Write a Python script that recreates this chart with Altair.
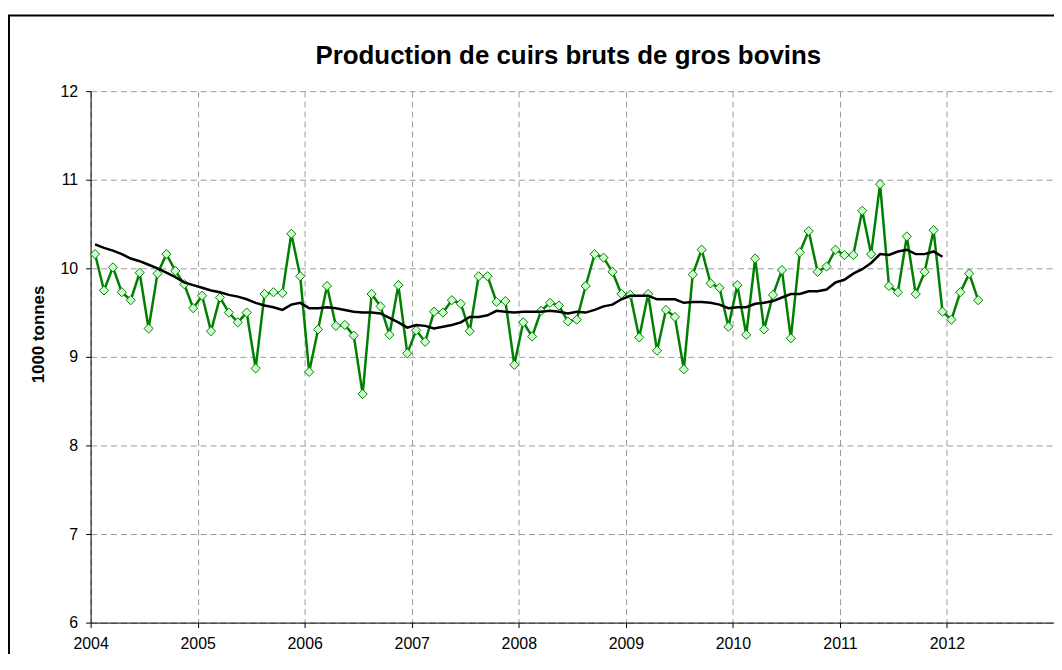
import altair as alt
import pandas as pd

# Monthly production, Jan 2004 .. Apr 2012 (1000 tonnes)
years = list(range(2004, 2013))
production = [
    10.16, 9.75, 10.01, 9.73, 9.64, 9.95, 9.32, 9.94, 10.16, 9.97, 9.82, 9.55,   # 2004
    9.69, 9.29, 9.67, 9.50, 9.39, 9.50, 8.87, 9.71, 9.73, 9.72, 10.39, 9.91,     # 2005
    8.83, 9.31, 9.80, 9.35, 9.36, 9.24, 8.58, 9.71, 9.57, 9.25, 9.81, 9.04,      # 2006
    9.30, 9.17, 9.51, 9.50, 9.64, 9.60, 9.29, 9.91, 9.91, 9.62, 9.63, 8.91,      # 2007
    9.39, 9.23, 9.52, 9.61, 9.58, 9.40, 9.42, 9.80, 10.16, 10.12, 9.96, 9.71,    # 2008
    9.70, 9.22, 9.71, 9.07, 9.53, 9.45, 8.86, 9.93, 10.21, 9.83, 9.78, 9.34,     # 2009
    9.81, 9.25, 10.11, 9.31, 9.70, 9.98, 9.21, 10.18, 10.42, 9.96, 10.02, 10.21, # 2010
    10.15, 10.15, 10.65, 10.16, 10.95, 9.80, 9.73, 10.36, 9.71, 9.96, 10.43, 9.51, # 2011
    9.42, 9.73, 9.94, 9.64,                                                      # 2012
]
# 12-month moving average, Jan 2004 .. Dec 2011
moving_avg = [
    10.27, 10.23, 10.20, 10.16, 10.11, 10.08, 10.04, 10.00, 9.95, 9.90, 9.84, 9.81,
    9.78, 9.75, 9.73, 9.70, 9.68, 9.65, 9.61, 9.58, 9.56, 9.53, 9.59, 9.61,
    9.55, 9.55, 9.56, 9.55, 9.53, 9.51, 9.50, 9.50, 9.49, 9.44, 9.39, 9.33,
    9.36, 9.35, 9.32, 9.34, 9.36, 9.39, 9.45, 9.45, 9.47, 9.52, 9.51, 9.50,
    9.51, 9.51, 9.51, 9.52, 9.51, 9.49, 9.51, 9.50, 9.53, 9.57, 9.59, 9.65,
    9.69, 9.69, 9.69, 9.65, 9.65, 9.65, 9.61, 9.62, 9.62, 9.61, 9.59, 9.55,
    9.56, 9.56, 9.60, 9.61, 9.63, 9.67, 9.71, 9.71, 9.74, 9.74, 9.76, 9.84,
    9.87, 9.94, 9.99, 10.06, 10.16, 10.15, 10.19, 10.21, 10.16, 10.16, 10.19, 10.13,
]
y_ticks = [6, 7, 8, 9, 10, 11, 12]
x_ticks = list(range(2004, 2014))
title_text = "Production de cuirs bruts de gros bovins"
y_title = "1000 tonnes"

def month_pos(i):
    return years[0] + (i + 0.5) / 12.0

df = pd.DataFrame({"t": [month_pos(i) for i in range(len(production))], "v": production})
dma = pd.DataFrame({"t": [month_pos(i) for i in range(len(moving_avg))], "v": moving_avg})

W, H = 968, 534
FONT = "Liberation Sans"

xs = alt.Scale(domain=[2004, 2013], nice=False, zero=False)
ys = alt.Scale(domain=[6, 12], nice=False, zero=False)

xaxis = alt.Axis(values=x_ticks, grid=True, title=None, tickSize=5,
                 labelExpr="datum.value < 2013 ? format(datum.value, 'd') : ''",
                 labelPadding=8, labelFontSize=16, labelFlush=False)
yaxis = alt.Axis(values=y_ticks, grid=True, format="d", title=y_title, tickSize=5,
                 labelPadding=8, labelFontSize=16, titleFontSize=17,
                 titleFontWeight="bold", titleAngle=270, titleBaseline="middle",
                 titleAlign="center", titleX=-52, titleY=244)

green_line = alt.Chart(df).mark_line(color="#008000", strokeWidth=2.5).encode(
    x=alt.X("t:Q", scale=xs, axis=xaxis),
    y=alt.Y("v:Q", scale=ys, axis=yaxis),
)
diamonds = alt.Chart(df).mark_point(
    shape="diamond", size=85, filled=False, fill="#ccffcc", fillOpacity=1,
    stroke="#008000", strokeWidth=1, opacity=1,
).encode(x=alt.X("t:Q", scale=xs), y=alt.Y("v:Q", scale=ys))
ma_line = alt.Chart(dma).mark_line(color="black", strokeWidth=2.5).encode(
    x=alt.X("t:Q", scale=xs), y=alt.Y("v:Q", scale=ys)
)
title_mark = alt.Chart(alt.Data(values=[{}])).mark_text(
    text=title_text, font=FONT, fontSize=26, fontWeight="bold", color="black",
    align="center", baseline="alphabetic",
).encode(x=alt.value(480), y=alt.value(-27))
border = alt.Chart(alt.Data(values=[{}])).mark_rect(
    fill=None, stroke="black", strokeWidth=2
).encode(
    x=alt.value(-82), x2=alt.value(W + 200),
    y=alt.value(-76), y2=alt.value(H + 200),
)

chart = alt.layer(green_line, diamonds, ma_line, title_mark, border).properties(
    width=W, height=H,
    autosize=alt.AutoSizeParams(type="none"),
    padding={"left": 83, "top": 82, "right": 0, "bottom": 30},
    background="white",
).configure_view(stroke=None).configure_axis(
    labelFont=FONT, titleFont=FONT, labelColor="black", titleColor="black",
    domainColor="black", tickColor="black", domainWidth=1, tickWidth=1,
    gridColor="#9a9a9a", gridDash=[6, 4], gridWidth=1,
)

chart.save("out.html", embed_options={"renderer": "svg", "actions": False})
